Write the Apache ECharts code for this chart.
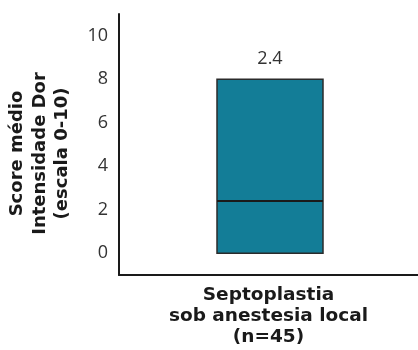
<!DOCTYPE html>
<html><head><meta charset="utf-8">
<script src="https://cdn.jsdelivr.net/npm/echarts@6/dist/echarts.min.js"></script>
<style>html,body{margin:0;padding:0;background:#fff}#c{width:418px;height:350px}</style>
</head><body><div id="c"></div>
<script>
const categories = ['Septoplastia\nsob anestesia local\n(n=45)'];
const boxLow = [0];
const boxHigh = [8];
const medians = [2.4];
const yTickLabels = [0, 2, 4, 6, 8, 10];
const yTitle = 'Score médio\nIntensidade Dor\n(escala 0-10)';

const chart = echarts.init(document.getElementById('c'));
const data = categories.map((c, i) => [i, boxLow[i], boxHigh[i], medians[i]]);
chart.setOption({
  animation: false,
  grid: {left: 119, right: 0, top: 14, bottom: 75, containLabel: false, outerBoundsMode: 'none'},
  xAxis: {
    type: 'category', data: categories,
    axisLine: {onZero: false, lineStyle: {color: '#1a1a1a', width: 2}},
    axisTick: {show: false},
    axisLabel: {margin: 10, fontFamily: 'DejaVu Sans', fontWeight: 'bold', fontSize: 18.5, lineHeight: 21, color: '#1a1a1a'}
  },
  yAxis: {
    type: 'value', min: -1, max: 11, interval: 1,
    name: yTitle, nameLocation: 'middle', nameRotate: 90, nameGap: 45,
    nameTextStyle: {fontFamily: 'DejaVu Sans', fontWeight: 'bold', fontSize: 18, lineHeight: 22.5, color: '#1a1a1a', padding: [0, 18, 0, 0]},
    axisLine: {show: true, lineStyle: {color: '#1a1a1a', width: 2}},
    axisTick: {show: false},
    splitLine: {show: false},
    axisLabel: {
      margin: 11, fontFamily: 'Open Sans', fontSize: 18, color: '#333',
      formatter: v => yTickLabels.includes(v) ? String(v) : ''
    }
  },
  series: [{
    type: 'custom',
    data: data,
    renderItem: (params, api) => {
      const x = api.value(0);
      const lo = api.coord([x, api.value(1)]);
      const hi = api.coord([x, api.value(2)]);
      const md = api.coord([x, api.value(3)]);
      const w = 106;
      const cx = lo[0] + 1.5;
      return {type: 'group', children: [
        {type: 'rect', shape: {x: cx - w / 2, y: hi[1], width: w, height: lo[1] - hi[1]},
          style: {fill: '#137D97', stroke: '#2b2b2b', lineWidth: 1.5}},
        {type: 'line', shape: {x1: cx - w / 2, y1: md[1], x2: cx + w / 2, y2: md[1]},
          style: {stroke: '#1a1a1a', lineWidth: 2}},
        {type: 'text', x: cx, y: hi[1] - 11,
          style: {text: String(api.value(3)), fontFamily: 'Open Sans', fontSize: 18, fill: '#333', align: 'center', verticalAlign: 'bottom'}}
      ]};
    }
  }]
});
</script></body></html>
